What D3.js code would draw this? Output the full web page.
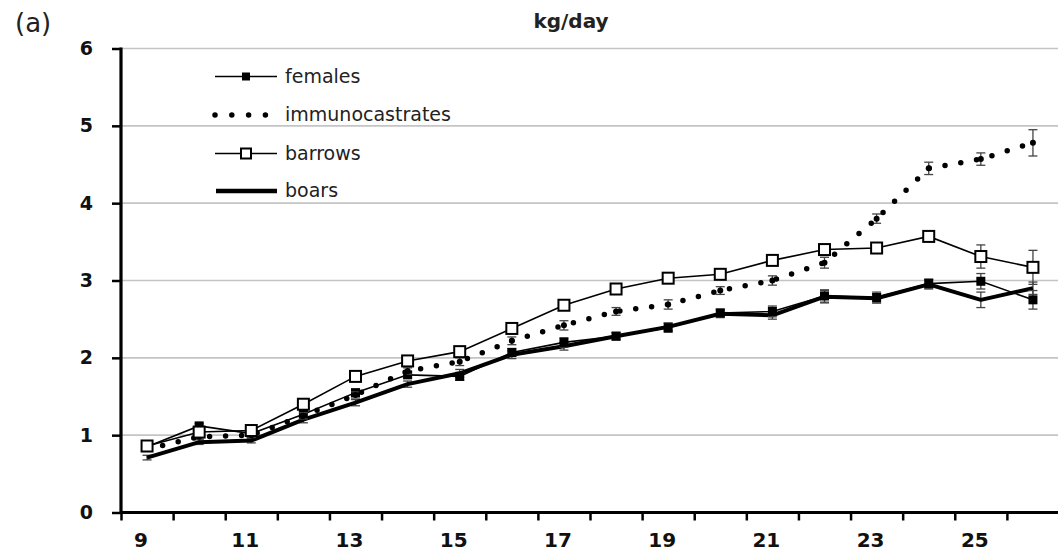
<html>
<head>
  <meta charset="UTF-8">
  <title>kg/day</title>
  <style>
    body { margin: 0; background: #fff; }
    svg { display: block; }
  </style>
</head>
<body>
<svg id="chart"></svg>
<script src="https://d3js.org/d3.v7.min.js"></script>
<script>
// data (weeks 9..26)
const weeks = [9,10,11,12,13,14,15,16,17,18,19,20,21,22,23,24,25,26];
const females = [0.85,1.12,1.02,1.27,1.55,1.78,1.76,2.07,2.20,2.28,2.39,2.58,2.60,2.80,2.78,2.96,2.99,2.75];
const femalesErr = [0.03,0.03,0.02,0.04,0.04,0.04,0.05,0.05,0.06,0.04,0.06,0.05,0.07,0.08,0.07,0.06,0.10,0.12];
const immuno = [0.82,0.98,1.00,1.25,1.52,1.83,1.95,2.22,2.42,2.60,2.69,2.87,3.00,3.23,3.80,4.45,4.57,4.78];
const immunoErr = [0.03,0.03,0.03,0.04,0.04,0.04,0.05,0.05,0.06,0.05,0.06,0.05,0.06,0.07,0.06,0.08,0.08,0.17];
const barrows = [0.86,1.04,1.06,1.40,1.76,1.96,2.08,2.38,2.68,2.89,3.03,3.08,3.26,3.40,3.42,3.57,3.31,3.17];
const barrowsErr = [0.03,0.04,0.03,0.04,0.04,0.04,0.05,0.05,0.05,0.05,0.05,0.05,0.05,0.05,0.05,0.05,0.15,0.22];
const boars = [0.71,0.91,0.93,1.20,1.42,1.66,1.80,2.04,2.15,2.28,2.40,2.57,2.55,2.79,2.77,2.95,2.75,2.90];
const boarsErr = [0.03,0.03,0.03,0.04,0.04,0.04,0.05,0.05,0.05,0.05,0.05,0.05,0.05,0.08,0.06,0.06,0.10,0.08];
const yTicks = [0,1,2,3,4,5,6];
const xLabels = [9,11,13,15,17,19,21,23,25];
const legendNames = ["females","immunocastrates","barrows","boars"];

let width = 1058, height = 551;
let svg = d3.select("#chart").attr("width", width).attr("height", height);

let x = d3.scaleLinear().domain([8.5, 26.5]).range([121, 1059]);
let y = d3.scaleLinear().domain([0, 6]).range([512.5, 48.5]);

// gridlines
svg.append("g")
  .selectAll("line")
  .data(yTicks.slice(1))
  .enter()
  .append("line")
  .attr("x1", x(8.5)).attr("x2", width)
  .attr("y1", d => y(d)).attr("y2", d => y(d))
  .attr("stroke", "#c4c4c4")
  .attr("stroke-width", 1.6);

// y axis
let yAxis = svg.append("g")
  .attr("transform", `translate(${x(8.5)},0)`)
  .call(d3.axisLeft(y).tickValues(yTicks).tickSize(9).tickPadding(19).tickFormat(d3.format("d")));
yAxis.select(".domain").attr("stroke", "#000").attr("stroke-width", 3.2).attr("d", `M0,${y(0)}V${y(6) - 1}`);
yAxis.selectAll(".tick line").attr("stroke", "#000").attr("stroke-width", 2.5);
yAxis.selectAll("text")
  .attr("font-family", "DejaVu Sans").attr("font-weight", "bold").attr("font-size", "19px").attr("fill", "#111");

// x axis: ticks on category boundaries
let bounds = d3.range(8.5, 27, 1);
let xAxis = svg.append("g")
  .attr("transform", `translate(0,${y(0)})`)
  .call(d3.axisBottom(x).tickValues(bounds).tickSize(8).tickFormat(""));
xAxis.select(".domain").attr("stroke", "#000").attr("stroke-width", 3.2).attr("d", `M${x(8.5)},0H${width}`);
xAxis.selectAll(".tick line").attr("stroke", "#000").attr("stroke-width", 2.5);

svg.append("g")
  .selectAll("text")
  .data(xLabels)
  .enter()
  .append("text")
  .attr("x", d => x(d) - 6)
  .attr("y", 547)
  .attr("text-anchor", "middle")
  .attr("font-family", "DejaVu Sans").attr("font-weight", "bold").attr("font-size", "20px").attr("fill", "#111")
  .text(d => d);

// title + panel letter
svg.append("text")
  .attr("x", 571).attr("y", 28)
  .attr("text-anchor", "middle")
  .attr("font-family", "DejaVu Sans").attr("font-weight", "bold").attr("font-size", "20px").attr("fill", "#222")
  .text("kg/day");
svg.append("text")
  .attr("x", 15).attr("y", 32)
  .attr("font-family", "DejaVu Sans").attr("font-size", "26px").attr("fill", "#222")
  .text("(a)");

let line = d3.line().x((d, i) => x(weeks[i])).y(d => y(d));

function errorBars(vals, errs) {
  let g = svg.append("g").attr("stroke", "#444").attr("stroke-width", 1.3);
  vals.forEach((v, i) => {
    let cx = x(weeks[i]);
    g.append("line").attr("x1", cx).attr("x2", cx).attr("y1", y(v - errs[i])).attr("y2", y(v + errs[i]));
    g.append("line").attr("x1", cx - 4.5).attr("x2", cx + 4.5).attr("y1", y(v - errs[i])).attr("y2", y(v - errs[i]));
    g.append("line").attr("x1", cx - 4.5).attr("x2", cx + 4.5).attr("y1", y(v + errs[i])).attr("y2", y(v + errs[i]));
  });
}

// boars: thick plain line
errorBars(boars, boarsErr);
svg.append("path").datum(boars)
  .attr("d", line).attr("fill", "none").attr("stroke", "#000").attr("stroke-width", 4).attr("stroke-linejoin", "round");

// females: thin line, filled squares
errorBars(females, femalesErr);
svg.append("path").datum(females)
  .attr("d", line).attr("fill", "none").attr("stroke", "#000").attr("stroke-width", 1.6);
svg.append("g").selectAll("rect").data(females).enter().append("rect")
  .attr("x", (d, i) => x(weeks[i]) - 4.5).attr("y", d => y(d) - 4.5)
  .attr("width", 9).attr("height", 9).attr("fill", "#000");

// immunocastrates: dotted line with dots
errorBars(immuno, immunoErr);
svg.append("path").datum(immuno)
  .attr("d", line).attr("fill", "none").attr("stroke", "#000").attr("stroke-width", 5.5)
  .attr("stroke-linecap", "round").attr("stroke-dasharray", "0 16");
svg.append("g").selectAll("circle").data(immuno).enter().append("circle")
  .attr("cx", (d, i) => x(weeks[i])).attr("cy", d => y(d)).attr("r", 3).attr("fill", "#000");

// barrows: thin line, open squares
errorBars(barrows, barrowsErr);
svg.append("path").datum(barrows)
  .attr("d", line).attr("fill", "none").attr("stroke", "#000").attr("stroke-width", 1.6);
svg.append("g").selectAll("rect").data(barrows).enter().append("rect")
  .attr("x", (d, i) => x(weeks[i]) - 5.5).attr("y", d => y(d) - 5.5)
  .attr("width", 11).attr("height", 11).attr("fill", "#fff").attr("stroke", "#000").attr("stroke-width", 2);

// legend
let legendY = [76.5, 115, 153.5, 191];
let lg = svg.append("g");
legendNames.forEach((name, i) => {
  let ly = legendY[i];
  if (name == "females") {
    lg.append("line").attr("x1", 215).attr("x2", 277).attr("y1", ly).attr("y2", ly).attr("stroke", "#000").attr("stroke-width", 1.6);
    lg.append("rect").attr("x", 242).attr("y", ly - 4).attr("width", 8).attr("height", 8).attr("fill", "#000");
  } else if (name == "immunocastrates") {
    lg.append("line").attr("x1", 215).attr("x2", 266).attr("y1", ly).attr("y2", ly).attr("stroke", "#000").attr("stroke-width", 5.5)
      .attr("stroke-linecap", "round").attr("stroke-dasharray", "0 16.8");
  } else if (name == "barrows") {
    lg.append("line").attr("x1", 215).attr("x2", 277).attr("y1", ly).attr("y2", ly).attr("stroke", "#000").attr("stroke-width", 1.6);
    lg.append("rect").attr("x", 241).attr("y", ly - 5).attr("width", 10).attr("height", 10).attr("fill", "#fff").attr("stroke", "#000").attr("stroke-width", 2);
  } else {
    lg.append("line").attr("x1", 216).attr("x2", 277).attr("y1", ly).attr("y2", ly).attr("stroke", "#000").attr("stroke-width", 4.5);
  }
  lg.append("text")
    .attr("x", 285).attr("y", ly + 6)
    .attr("font-family", "DejaVu Sans").attr("font-size", "19px").attr("fill", "#222")
    .text(name);
});
</script>
</body>
</html>
